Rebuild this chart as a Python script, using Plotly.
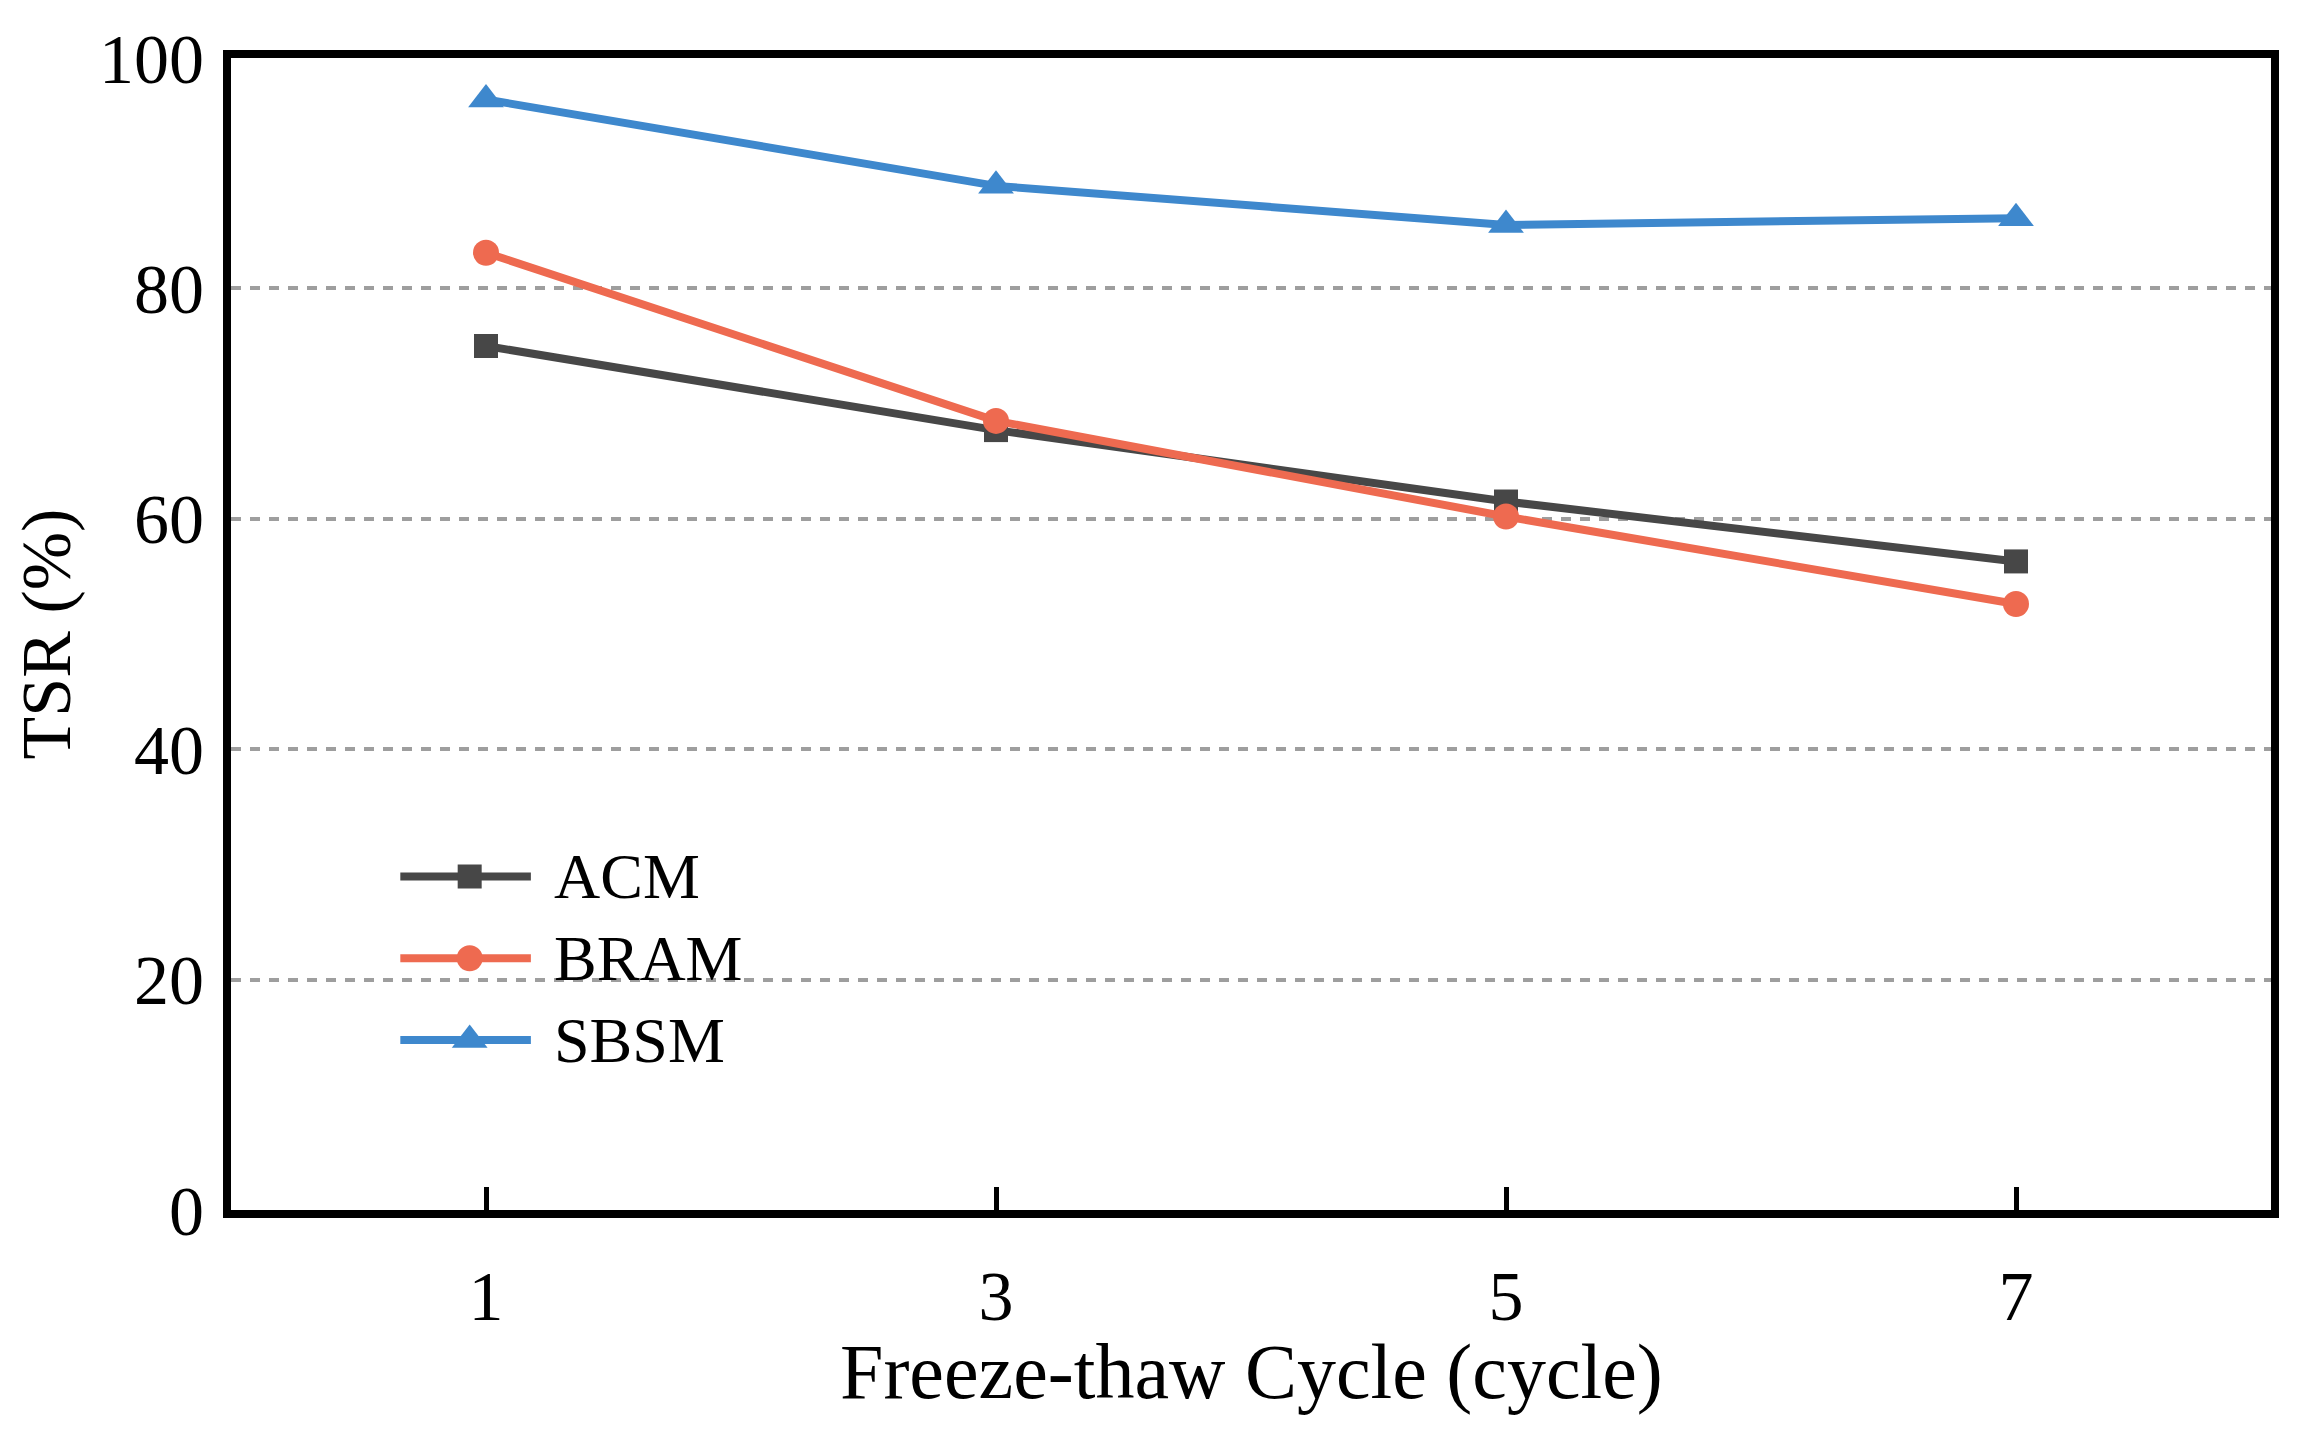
import plotly.graph_objects as go

# ---- data ----
cycles = [1, 3, 5, 7]
series_names = ["ACM", "BRAM", "SBSM"]
acm = [75.0, 67.7, 61.5, 56.3]
bram = [83.1, 68.5, 60.2, 52.6]
sbsm = [96.4, 88.9, 85.5, 86.1]
x_ticks = [1, 3, 5, 7]
y_ticks = [0, 20, 40, 60, 80, 100]
x_title = "Freeze-thaw Cycle (cycle)"
y_title = "TSR (%)"

colors = ["#474747", "#EE6A50", "#3E88CD"]
symbols = ["square", "circle", "triangle-up"]
msizes = [24, 26, 31]
values = [acm, bram, sbsm]

FONT = "Liberation Serif"
# page body has an 8px margin, so the figure is slightly smaller than the window
W, H = 2284, 1416
ML, MR, MT, MB = 223, 21, 48, 214
LW = 8

fig = go.Figure()
for name, vals, c, s, ms in zip(series_names, values, colors, symbols, msizes):
    fig.add_trace(go.Scatter(
        x=cycles, y=vals, name=name, mode="lines+markers",
        line=dict(color=c, width=LW),
        marker=dict(symbol=s, size=ms, color=c, line=dict(width=0)),
        showlegend=False,
    ))

# custom legend drawn on an overlay axis (0..1 coordinates of the plot area)
leg_x0, leg_x1, leg_xm = 0.0830, 0.1470, 0.1170
leg_ys = [0.2895, 0.2185, 0.1475]
leg_text_x = 0.1575
for name, c, s, ms, ly in zip(series_names, colors, symbols, msizes, leg_ys):
    fig.add_trace(go.Scatter(
        x=[leg_x0, leg_x1], y=[ly, ly], mode="lines",
        line=dict(color=c, width=LW), xaxis="x2", yaxis="y2",
        showlegend=False, hoverinfo="skip",
    ))
    fig.add_trace(go.Scatter(
        x=[leg_xm], y=[ly], mode="markers",
        marker=dict(symbol=s, size=ms, color=c, line=dict(width=0)),
        xaxis="x2", yaxis="y2", showlegend=False, hoverinfo="skip",
    ))
    fig.add_annotation(
        x=leg_text_x, y=ly, xref="x2", yref="y2", text=name,
        showarrow=False, xanchor="left", yanchor="middle",
        font=dict(family=FONT, size=64, color="black"),
    )

# x-axis title
fig.add_annotation(
    x=0.5, y=0, xref="paper", yref="paper", yshift=-161,
    text=x_title, showarrow=False, xanchor="center", yanchor="middle",
    font=dict(family=FONT, size=78, color="black"),
)

fig.update_layout(
    width=W, height=H,
    margin=dict(l=ML, r=MR, t=MT, b=MB),
    paper_bgcolor="white", plot_bgcolor="white",
    font=dict(family=FONT, color="black"),
    xaxis=dict(
        range=[0, 8], tickvals=x_ticks, ticktext=[str(v) for v in x_ticks],
        showline=True, mirror=True, linecolor="black", linewidth=LW,
        ticks="inside", ticklen=23, tickwidth=5, tickcolor="black",
        showgrid=False, zeroline=False,
        tickfont=dict(family=FONT, size=70, color="black"),
        ticklabelstandoff=18,
    ),
    yaxis=dict(
        range=[0, 100], tickvals=y_ticks, ticktext=[str(v) for v in y_ticks],
        showline=True, mirror=True, linecolor="black", linewidth=LW,
        ticks="", showgrid=True, gridcolor="#9E9E9E", gridwidth=3.5,
        griddash="10px,9px", zeroline=False,
        tickfont=dict(family=FONT, size=70, color="black"),
        ticklabelstandoff=5,
        title=dict(text=y_title,
                   font=dict(family=FONT, size=70, color="black"), standoff=22),
    ),
    xaxis2=dict(range=[0, 1], overlaying="x", visible=False, fixedrange=True),
    yaxis2=dict(range=[0, 1], overlaying="y", visible=False, fixedrange=True),
)

fig.write_html("out.html")
